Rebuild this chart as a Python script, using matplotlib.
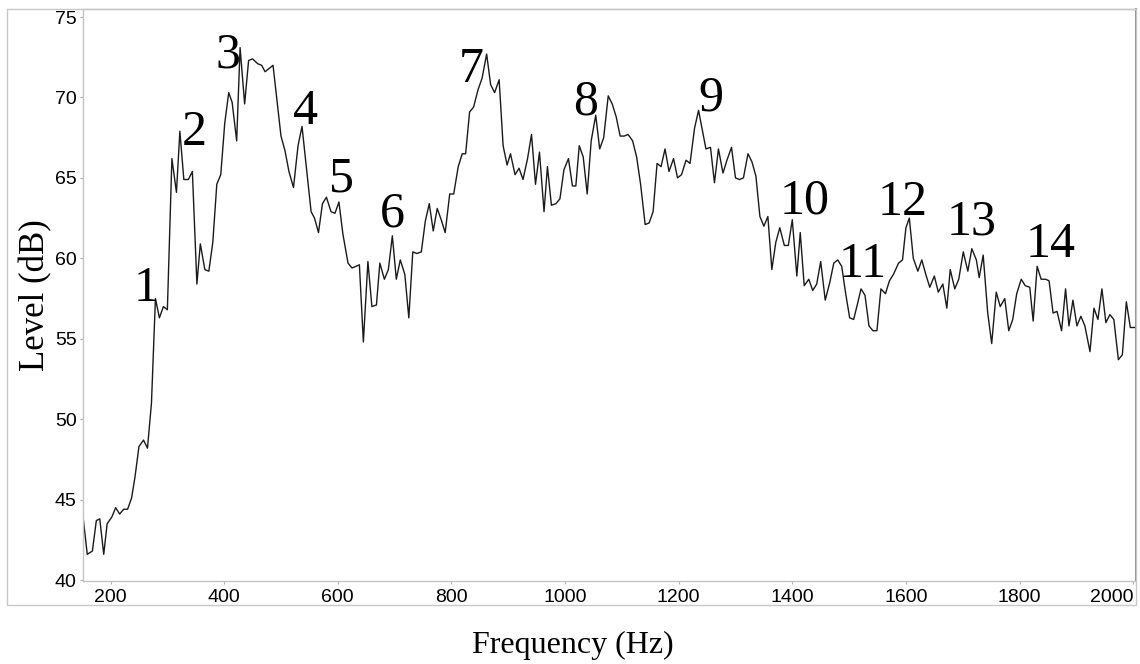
import matplotlib
matplotlib.use("Agg")
import matplotlib.pyplot as plt
from matplotlib.patches import Rectangle

# spectrum (Hz, dB)
freq = [
    152, 159, 168, 175, 181, 188, 194, 202, 209, 216, 223, 230, 237, 243, 250, 258, 265, 272, 279, 286,
    293, 300, 308, 316, 322, 329, 337, 344, 352, 358, 366, 373, 380, 387, 394, 401, 408, 414, 422, 428,
    436, 443, 450, 459, 466, 472, 479, 486, 493, 500, 507, 514, 522, 530, 537, 553, 559, 566, 573, 580,
    588, 595, 602, 609, 618, 625, 632, 638, 645, 653, 660, 668, 674, 682, 689, 696, 703, 710, 718, 725,
    732, 739, 747, 754, 761, 768, 775, 782, 789, 797, 804, 812, 819, 825, 832, 839, 847, 854, 862, 869,
    876, 884, 891, 898, 904, 912, 919, 926, 934, 941, 948, 955, 963, 969, 976, 984, 991, 998, 1006, 1013,
    1019, 1025, 1032, 1039, 1046, 1054, 1061, 1068, 1076, 1083, 1090, 1097, 1104, 1111, 1119, 1126, 1133, 1141, 1148, 1155,
    1162, 1169, 1176, 1183, 1191, 1198, 1205, 1213, 1220, 1228, 1235, 1241, 1248, 1256, 1263, 1270, 1278, 1285, 1293, 1300,
    1307, 1314, 1322, 1329, 1336, 1343, 1350, 1357, 1364, 1371, 1378, 1386, 1393, 1400, 1408, 1414, 1421, 1429, 1436, 1443,
    1450, 1458, 1466, 1473, 1480, 1487, 1494, 1501, 1508, 1515, 1521, 1528, 1535, 1542, 1549, 1556, 1564, 1571, 1578, 1587,
    1594, 1600, 1606, 1613, 1621, 1628, 1635, 1642, 1650, 1657, 1665, 1672, 1678, 1686, 1693, 1701, 1709, 1716, 1724, 1729,
    1736, 1744, 1751, 1759, 1766, 1774, 1781, 1788, 1795, 1803, 1810, 1818, 1824, 1831, 1838, 1846, 1852, 1859, 1866, 1874,
    1881, 1887, 1894, 1901, 1908, 1915, 1924, 1931, 1938, 1945, 1952, 1959, 1966, 1974, 1981, 1988, 1995, 2003,
]
level = [
    43.8, 41.6, 41.8, 43.7, 43.8, 41.6, 43.5, 43.9, 44.5, 44.1, 44.4, 44.4, 45.1, 46.4, 48.3, 48.7, 48.2, 51.0, 57.5, 56.3,
    57.0, 56.8, 66.2, 64.1, 67.9, 64.9, 64.9, 65.4, 58.4, 60.9, 59.3, 59.2, 61.0, 64.6, 65.2, 68.4, 70.3, 69.7, 67.3, 73.1,
    69.6, 72.3, 72.4, 72.1, 72.0, 71.6, 71.8, 72.0, 69.8, 67.6, 66.7, 65.4, 64.4, 67.0, 68.2, 62.9, 62.5, 61.6, 63.4, 63.8,
    62.9, 62.8, 63.5, 61.5, 59.7, 59.4, 59.5, 59.6, 54.8, 59.8, 57.0, 57.1, 59.7, 58.7, 59.3, 61.4, 58.7, 59.9, 59.0, 56.3,
    60.4, 60.3, 60.4, 62.3, 63.4, 61.7, 63.1, 62.4, 61.6, 64.0, 64.0, 65.7, 66.5, 66.5, 69.1, 69.4, 70.5, 71.2, 72.7, 70.8,
    70.3, 71.1, 67.0, 65.8, 66.5, 65.2, 65.6, 64.9, 66.2, 67.7, 64.6, 66.6, 62.9, 65.7, 63.3, 63.4, 63.7, 65.5, 66.2, 64.5,
    64.5, 67.0, 66.3, 64.0, 67.3, 68.9, 66.8, 67.5, 70.1, 69.6, 68.8, 67.6, 67.6, 67.7, 67.3, 66.3, 64.6, 62.1, 62.2, 62.9,
    65.9, 65.7, 66.8, 65.4, 66.2, 65.0, 65.2, 66.1, 65.9, 68.1, 69.2, 68.1, 66.8, 66.9, 64.7, 66.8, 65.3, 66.1, 66.9, 65.0,
    64.9, 65.0, 66.5, 66.0, 65.1, 62.6, 62.0, 62.6, 59.3, 61.0, 61.9, 60.8, 60.8, 62.4, 58.9, 61.6, 58.3, 58.7, 58.0, 58.4,
    59.8, 57.4, 58.5, 59.7, 59.9, 59.5, 57.8, 56.3, 56.2, 57.2, 58.1, 57.7, 55.8, 55.5, 55.5, 58.1, 57.8, 58.6, 59.0, 59.7,
    59.9, 61.9, 62.5, 60.0, 59.2, 59.9, 59.0, 58.2, 58.9, 57.9, 58.4, 56.9, 59.3, 58.1, 58.7, 60.4, 59.2, 60.6, 59.9, 58.8,
    60.2, 56.6, 54.7, 57.9, 57.0, 57.5, 55.5, 56.2, 57.8, 58.7, 58.3, 58.2, 56.1, 59.5, 58.7, 58.7, 58.6, 56.6, 56.7, 55.5,
    58.1, 55.8, 57.4, 55.8, 56.4, 55.8, 54.2, 56.9, 56.2, 58.1, 56.0, 56.5, 56.2, 53.7, 54.0, 57.3, 55.7, 55.7,
]

# numbered peak labels: (Hz, dB) of the centre of each number
peak_ids = list(range(1, 15))
peak_f = [263, 348, 407, 544, 606, 696, 835, 1036, 1257, 1421, 1524, 1595, 1715, 1854]
peak_v = [58.4, 68.1, 72.9, 69.4, 65.2, 63.0, 72.0, 70.0, 70.2, 63.8, 59.9, 63.7, 62.5, 61.1]

x_ticks = [200, 400, 600, 800, 1000, 1200, 1400, 1600, 1800, 2000]
y_ticks = [40, 45, 50, 55, 60, 65, 70, 75]

W, H = 1140, 664
fig = plt.figure(figsize=(W / 100, H / 100), dpi=100)
ax = fig.add_axes([83 / W, 1 - 581 / H, (1136 - 83) / W, (581 - 9) / H])

# outer grey box round plot + tick labels
fig.patches.append(Rectangle((7 / W, 1 - 605 / H), 1129 / W, 596 / H,
                             transform=fig.transFigure, fill=False,
                             ec="#c8c8c8", lw=1.0))

ax.plot(freq, level, color="#1a1a1a", lw=1.0)

ax.set_xlim(151.5, 2005)
ax.set_ylim(39.94, 75.5)
ax.set_xticks(x_ticks)
ax.set_yticks(y_ticks)
ax.set_xticklabels([str(t) for t in x_ticks])
ax.set_yticklabels([str(t) for t in y_ticks])
ax.get_xticklabels()[-1].set_horizontalalignment("right")

for s in ["left", "bottom", "top"]:
    ax.spines[s].set_color("#c4c4c4")
    ax.spines[s].set_linewidth(1.0)
ax.spines["right"].set_color("#808080")
ax.spines["right"].set_linewidth(1.3)

ax.tick_params(direction="out", length=2.5, width=0.8, color="#b0b0b0",
               labelsize=14, pad=2)
for lab in ax.get_xticklabels() + ax.get_yticklabels():
    lab.set_family("Liberation Sans")
ax.tick_params(axis="x", pad=3)

for n, f, v in zip(peak_ids, peak_f, peak_v):
    ax.annotate(str(n), (f, v), xytext=(0, -12), textcoords="offset points",
                ha="center", va="baseline", fontsize=36,
                family="Liberation Serif", color="black")

fig.text(573 / W, 1 - 653 / H, "Frequency (Hz)", family="Liberation Serif",
         size=23, ha="center", va="baseline")
fig.text(36 / W, 1 - 295 / H, "Level (dB)", family="Liberation Serif",
         size=25, rotation=90, ha="center", va="center")

fig.savefig("out.png", dpi=100)
